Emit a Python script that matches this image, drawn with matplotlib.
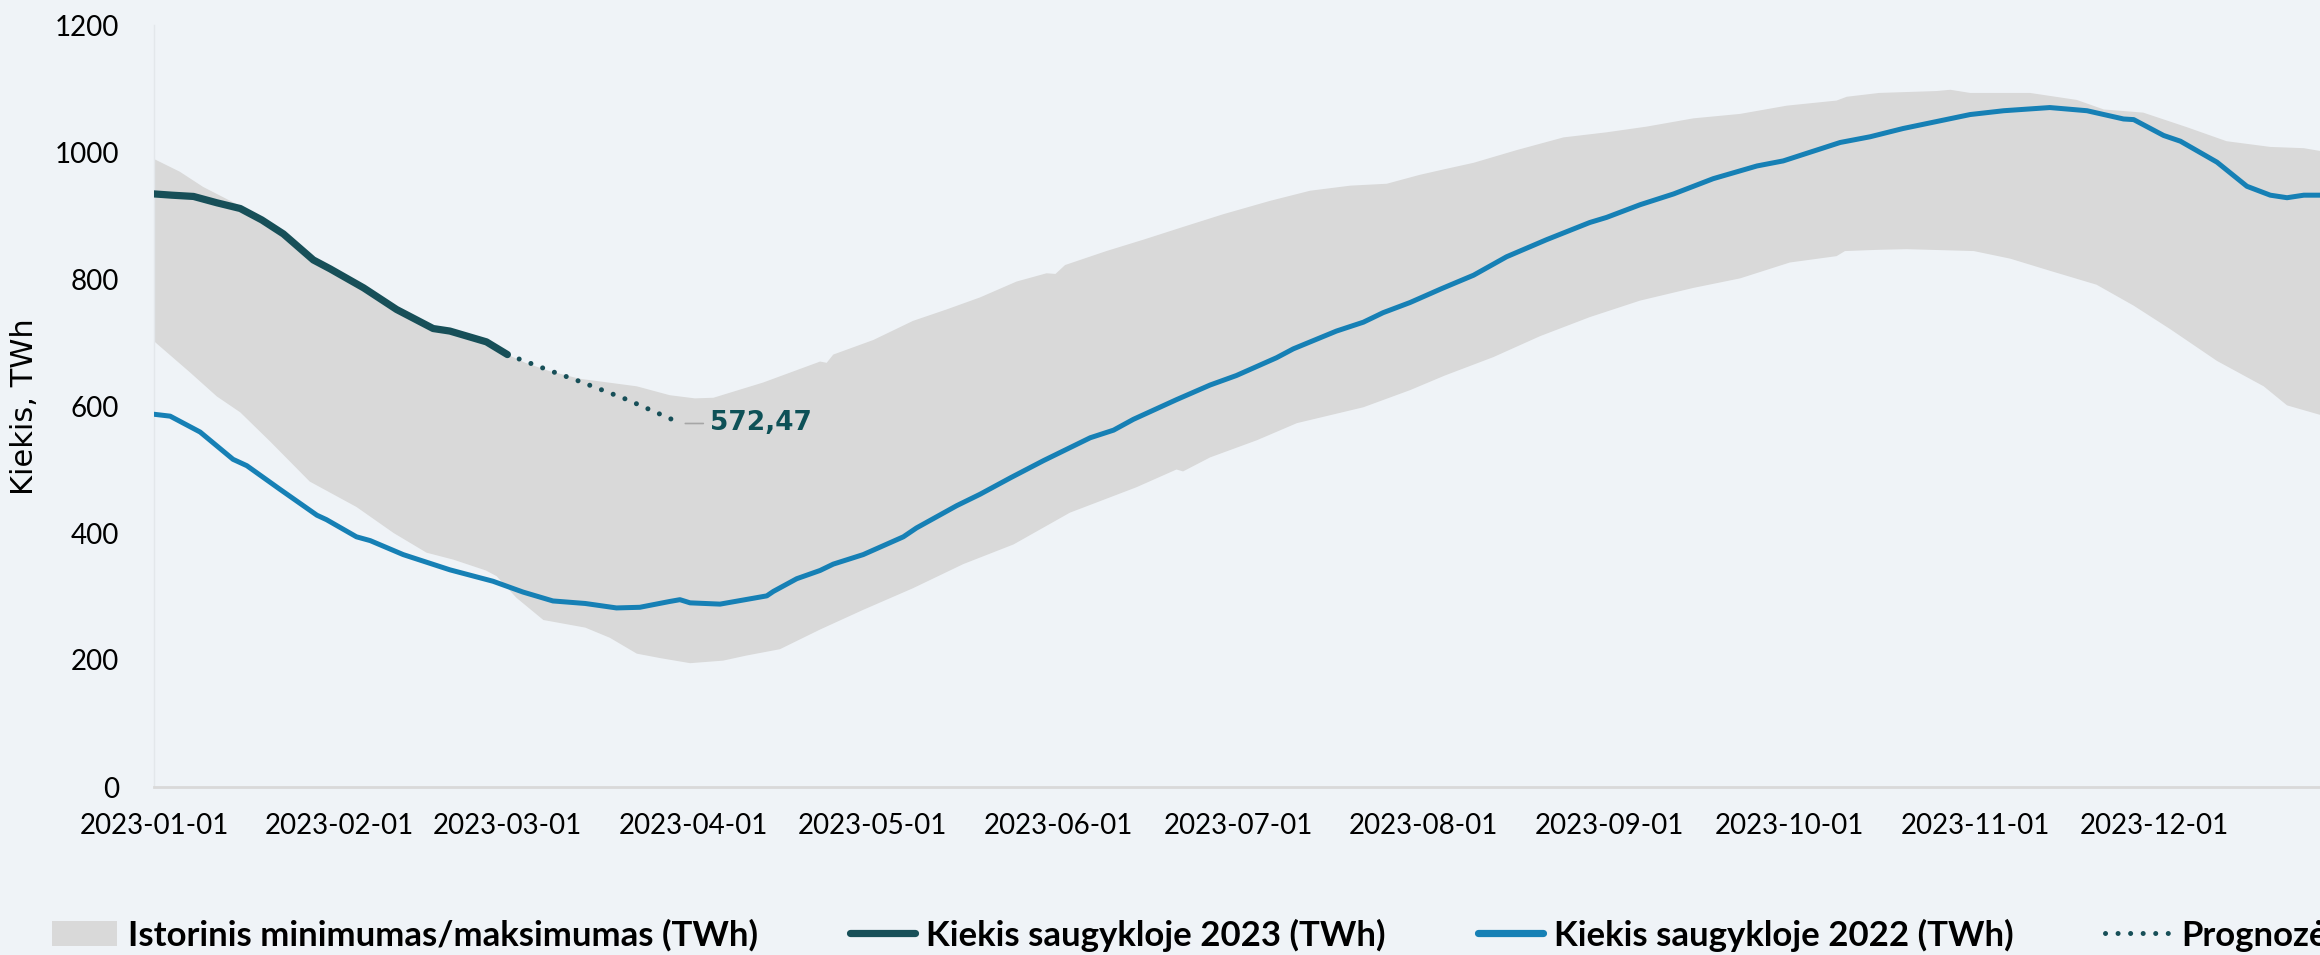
import numpy as np
import pandas as pd
import matplotlib
matplotlib.use('Agg')
import matplotlib.pyplot as plt
from matplotlib.lines import Line2D
from matplotlib.patches import Patch

START = pd.Timestamp('2023-01-01')

# days counted from 2023-01-01, values in TWh
hist_max_days = [0, 4.3, 8.2, 14.4, 18, 21.6, 26.6, 29.4, 35, 40.5, 46.6, 49.4, 55.5, 59,
                 62, 66, 71, 80.6, 86.1, 90.3, 93.4, 101.7, 111.2, 112.3, 113.4, 120.1,
                 126.7, 132.3, 137.9, 144, 149, 150.5, 152.1, 159, 165.2, 171.8, 178.5,
                 186.3, 193, 199.7, 205.8, 211.3, 215.5, 220.3, 227.5, 235.3, 242.5, 249.2,
                 257, 264.8, 272.6, 280.9, 282.6, 288, 297.6, 299.9, 303.2, 313.2, 321,
                 325.5, 332.1, 339.4, 346, 353.3, 358.9, 362]
hist_max = [989, 969, 945, 915, 893, 871, 830, 816, 786, 752, 722, 718, 701, 681,
            668, 655, 643, 631, 617, 612, 613, 637, 670, 668, 681, 704,
            734, 752, 771, 796, 809, 808, 822, 844, 862, 882, 902,
            923, 939, 947, 950, 964, 973, 983, 1003, 1023, 1031, 1040,
            1053, 1060, 1073, 1081, 1087, 1093, 1096, 1098, 1093, 1093, 1082,
            1067, 1062, 1039, 1017, 1008, 1006, 1001]

hist_min_days = [0, 6, 10.5, 14.4, 19.4, 26, 33.8, 40, 45.5, 50, 55.4, 57.2, 60.5, 65, 72,
                 76.1, 80.6, 84.5, 89.5, 95, 98.9, 104.5, 111.2, 118.4, 126.7, 135.1,
                 143.5, 152.9, 164, 170.7, 171.8, 176.3, 184.1, 190.8, 201.9, 209.7, 215.5,
                 223.6, 231.4, 239.7, 248.1, 257, 264.8, 273.1, 280.9, 282.3, 288, 292.6,
                 303.8, 309.9, 316.5, 324.3, 330.5, 336.6, 344.4, 352.2, 356.1, 362]
hist_min = [702, 653, 615, 590, 544, 481, 441, 400, 369, 358, 341, 332, 298, 263, 251,
            235, 210, 203, 195, 199, 207, 217, 248, 279, 313, 351,
            382, 432, 472, 500, 497, 519, 546, 573, 598, 625, 648,
            677, 710, 740, 766, 786, 801, 826, 836, 844, 846, 847,
            844, 832, 813, 791, 758, 721, 671, 631, 601, 585]

y2023_days = [0, 3, 6.6, 10.5, 14.4, 18, 21.6, 26.6, 29.4, 35, 40.5, 46.6, 49.4, 55.5, 59]
y2023 = [934, 932, 930, 920, 911, 893, 871, 830, 816, 786, 752, 722, 718, 701, 681]

forecast_days = [59, 66, 71, 79, 88]
forecast = [681, 656, 639, 610, 572.47]

y2022_days = [0, 2.7, 7.7, 13.2, 15.5, 21, 27.2, 28.8, 33.8, 36.1, 41.6, 49.4, 56.6, 61.6,
              66.6, 72, 77.2, 81.1, 86, 87.8, 89.5, 94.5, 102.3, 103.4, 107.3, 111.2, 113.4,
              118.4, 125.1, 127.3, 134, 137.9, 143, 148.5, 156.3, 160.2, 163.5, 170.7,
              176.3, 180.7, 187.4, 190.2, 197.4, 201.9, 205.2, 209.7, 215, 220.3, 225.8,
              232.5, 239.7, 242.5, 248.1, 253.7, 260.3, 267.6, 272, 281.5, 286.5, 292,
              297.6, 303.2, 308.8, 316.5, 322.7, 328.8, 330.5, 335.5, 338.3, 344.4, 349.4,
              353.3, 356.1, 358.9, 362]
y2022 = [587, 584, 559, 516, 506, 469, 428, 421, 394, 388, 366, 342, 324, 307,
         293, 289, 282, 283, 292, 295, 290, 288, 301, 308, 328, 341, 351,
         366, 394, 408, 443, 461, 487, 514, 550, 562, 579, 610,
         633, 648, 676, 690, 718, 732, 747, 763, 785, 806, 835,
         862, 889, 897, 917, 934, 958, 978, 986, 1015, 1024, 1037,
         1048, 1059, 1065, 1070, 1065, 1052, 1051, 1026, 1017, 984, 946,
         932, 928, 932, 932]

y_ticks = [0, 200, 400, 600, 800, 1000, 1200]
months = pd.date_range('2023-01-01', '2023-12-01', freq='MS')
month_days = [(m - START).days for m in months]
month_labels = [m.strftime('%Y-%m-%d') for m in months]

BG = '#EFF3F7'
BAND = '#D9D9D9'
DARK = '#174F58'
BLUE = '#1680B5'

fig = plt.figure(figsize=(23.2, 9.55), dpi=100, facecolor=BG)
ax = fig.add_axes([154 / 2320, 1 - 787 / 955, 1 - 154 / 2320, (787 - 25) / 955])
ax.set_facecolor(BG)

# historical band as one polygon: max forward, min backward
poly_x = np.concatenate([hist_max_days, hist_min_days[::-1]])
poly_y = np.concatenate([hist_max, hist_min[::-1]])
ax.fill(poly_x, poly_y, color=BAND, lw=0, zorder=1)

ax.plot(y2022_days, y2022, color=BLUE, lw=3.6, solid_capstyle='round',
        solid_joinstyle='round', zorder=3)
ax.plot(y2023_days, y2023, color=DARK, lw=5.2, solid_capstyle='round',
        solid_joinstyle='round', zorder=4)
ax.plot(forecast_days, forecast, color=DARK, lw=3.6, linestyle=(0, (0.01, 2.5)),
        dash_capstyle='round', zorder=4)

ax.annotate('572,47', xy=(forecast_days[-1], forecast[-1]), xytext=(21, 0),
            textcoords='offset points', va='center', ha='left',
            fontsize=19, fontweight='bold', color='#0E5157', family='DejaVu Sans',
            arrowprops=dict(arrowstyle='-', color='#A6A6A6', lw=1.2, shrinkA=3, shrinkB=3),
            zorder=5)

ax.set_xlim(0, 361.6)
ax.set_ylim(0, 1200)
ax.set_yticks(y_ticks)
ax.set_yticklabels([str(v) for v in y_ticks])
ax.set_xticks(month_days)
ax.set_xticklabels(month_labels)

for s in ['top', 'right']:
    ax.spines[s].set_visible(False)
ax.spines['bottom'].set_color('#D9D9D9')
ax.spines['bottom'].set_linewidth(2)
ax.spines['left'].set_color('#E3E7EB')
ax.spines['left'].set_linewidth(1)

ax.tick_params(axis='both', length=0, labelsize=20, labelcolor='black')
ax.tick_params(axis='x', pad=19)
ax.tick_params(axis='y', pad=25)
for lab in ax.get_xticklabels() + ax.get_yticklabels():
    lab.set_family('Lato')

fig.text(25 / 2320, 1 - 407 / 955, 'Kiekis, TWh', rotation=90, va='center', ha='center',
         fontsize=22, family='DejaVu Sans', color='black')

handles = [
    Patch(facecolor=BAND, edgecolor='none'),
    Line2D([], [], color=DARK, lw=5.2, solid_capstyle='round'),
    Line2D([], [], color=BLUE, lw=5.2, solid_capstyle='round'),
    Line2D([], [], color=DARK, lw=3.6, linestyle=(0, (0.01, 2.5)), dash_capstyle='round'),
]
labels = ['Istorinis minimumas/maksimumas (TWh)', 'Kiekis saugykloje 2023 (TWh)',
          'Kiekis saugykloje 2022 (TWh)', 'Prognozė']
fig.legend(handles, labels, loc='center left', bbox_to_anchor=(52 / 2320, 1 - 935 / 955),
           ncol=4, frameon=False, prop=dict(family='Lato', weight='bold', size=25),
           handlelength=1.87, handletextpad=0.32, columnspacing=2.65,
           borderaxespad=0, borderpad=0)

fig.savefig('out.png', dpi=100, facecolor=BG)
